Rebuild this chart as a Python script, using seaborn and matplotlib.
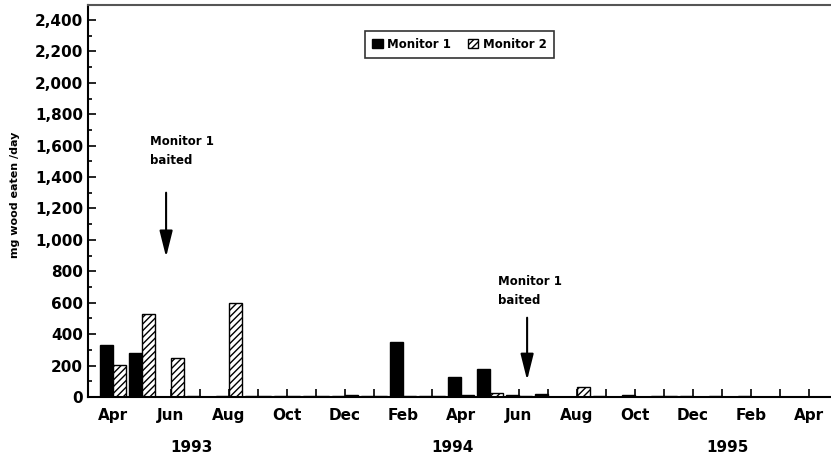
import pandas as pd
import numpy as np
import matplotlib
matplotlib.use("Agg")
import matplotlib.pyplot as plt
from matplotlib.patches import Patch
import seaborn as sns

# monthly feeding, Apr 1993 - Apr 1995
months = ["Apr", "May", "Jun", "Jul", "Aug", "Sep", "Oct", "Nov", "Dec", "Jan",
          "Feb", "Mar", "Apr", "May", "Jun", "Jul", "Aug", "Sep", "Oct", "Nov",
          "Dec", "Jan", "Feb", "Mar", "Apr"]
month_ids = [f"{m}-{i}" for i, m in enumerate(months)]
monitor1 = [330, 280, 0, 4, 5, 8, 3, 6, 8, 5, 350, 6, 125, 180, 15, 20,
            0, 3, 10, 6, 4, 8, 3, 0, 0]
monitor2 = [205, 530, 245, 0, 595, 4, 6, 5, 10, 6, 4, 5, 10, 25, 8, 0,
            65, 0, 0, 4, 0, 0, 0, 0, 0]
years = ["1993", "1994", "1995"]
year_pos = [2.7, 11.7, 21.2]

df = pd.DataFrame({
    "month": month_ids * 2,
    "monitor": ["Monitor 1"] * len(months) + ["Monitor 2"] * len(months),
    "value": monitor1 + monitor2,
})

sns.set_style("ticks")
plt.rcParams["font.family"] = ["DejaVu Sans"]
plt.rcParams["hatch.linewidth"] = 1.0
for k in ["text.color", "axes.labelcolor", "xtick.color", "ytick.color"]:
    plt.rcParams[k] = "black"

fig = plt.figure(figsize=(8.31, 4.61), dpi=100)
ax = fig.add_axes([0.106, 0.139, 0.894, 0.85])

sns.barplot(data=df, x="month", y="value", hue="monitor", order=month_ids,
            palette={"Monitor 1": "black", "Monitor 2": "white"},
            edgecolor="black", linewidth=1, width=0.9, saturation=1,
            errorbar=None, legend=False, ax=ax)
for bar in ax.containers[1]:
    bar.set_hatch("/////")

ax.set_xlim(-0.86, 24.76)
ax.set_ylim(0, 2495)
ax.set_yticks(np.arange(0, 2401, 200))
ax.set_yticks(np.arange(100, 2400, 200), minor=True)
ax.set_yticklabels([f"{v:,}" for v in range(0, 2401, 200)])
ax.set_xticks(range(len(months)))
ax.set_xticklabels([m if i % 2 == 0 else "" for i, m in enumerate(months)])

ax.tick_params(axis="both", which="major", direction="in", length=6, width=1.2,
               labelsize=11)
ax.tick_params(axis="y", which="minor", direction="in", length=3, width=1.2)
ax.tick_params(axis="x", pad=8)
for lab in ax.get_xticklabels() + ax.get_yticklabels():
    lab.set_fontweight("bold")

ax.set_xlabel("")
ax.set_ylabel("mg wood eaten /day", fontsize=8, fontweight="bold")
ax.yaxis.set_label_coords(-0.092, 0.515)

for s in ["left", "bottom"]:
    ax.spines[s].set_linewidth(1.5)
    ax.spines[s].set_color("black")
ax.spines["top"].set_linewidth(1.5)
ax.spines["top"].set_color("#555555")
ax.spines["right"].set_visible(False)

# year labels under the month ticks
for yr, xp in zip(years, year_pos):
    ax.text(xp, -0.13, yr, transform=ax.get_xaxis_transform(), ha="center",
            va="center", fontsize=11, fontweight="bold")

# baiting arrows
arrow = dict(arrowstyle="-|>,head_width=0.4,head_length=1.6", color="black", lw=1.5)
ax.annotate("", xy=(1.83, 873), xytext=(1.83, 1318), arrowprops=arrow)
ax.text(1.28, 1669, "Monitor 1\nbaited", ha="left", va="top", fontsize=8.5,
        fontweight="bold", linespacing=1.6)
ax.annotate("", xy=(14.28, 89), xytext=(14.28, 522), arrowprops=arrow)
ax.text(13.28, 777, "Monitor 1\nbaited", ha="left", va="top", fontsize=8.5,
        fontweight="bold", linespacing=1.6)

handles = [Patch(facecolor="black", edgecolor="black", label="Monitor 1"),
           Patch(facecolor="white", edgecolor="black", hatch="/////", label="Monitor 2")]
leg = ax.legend(handles=handles, loc="upper center", bbox_to_anchor=(0.5, 0.95),
                ncol=2, frameon=True, fancybox=False, handlelength=0.9,
                handleheight=0.9, handletextpad=0.4, columnspacing=1.4,
                prop={"size": 8.5, "weight": "bold"}, borderpad=0.6)
leg.get_frame().set_edgecolor("black")
leg.get_frame().set_linewidth(1.2)

fig.savefig("out.png", dpi=100, facecolor="white")
